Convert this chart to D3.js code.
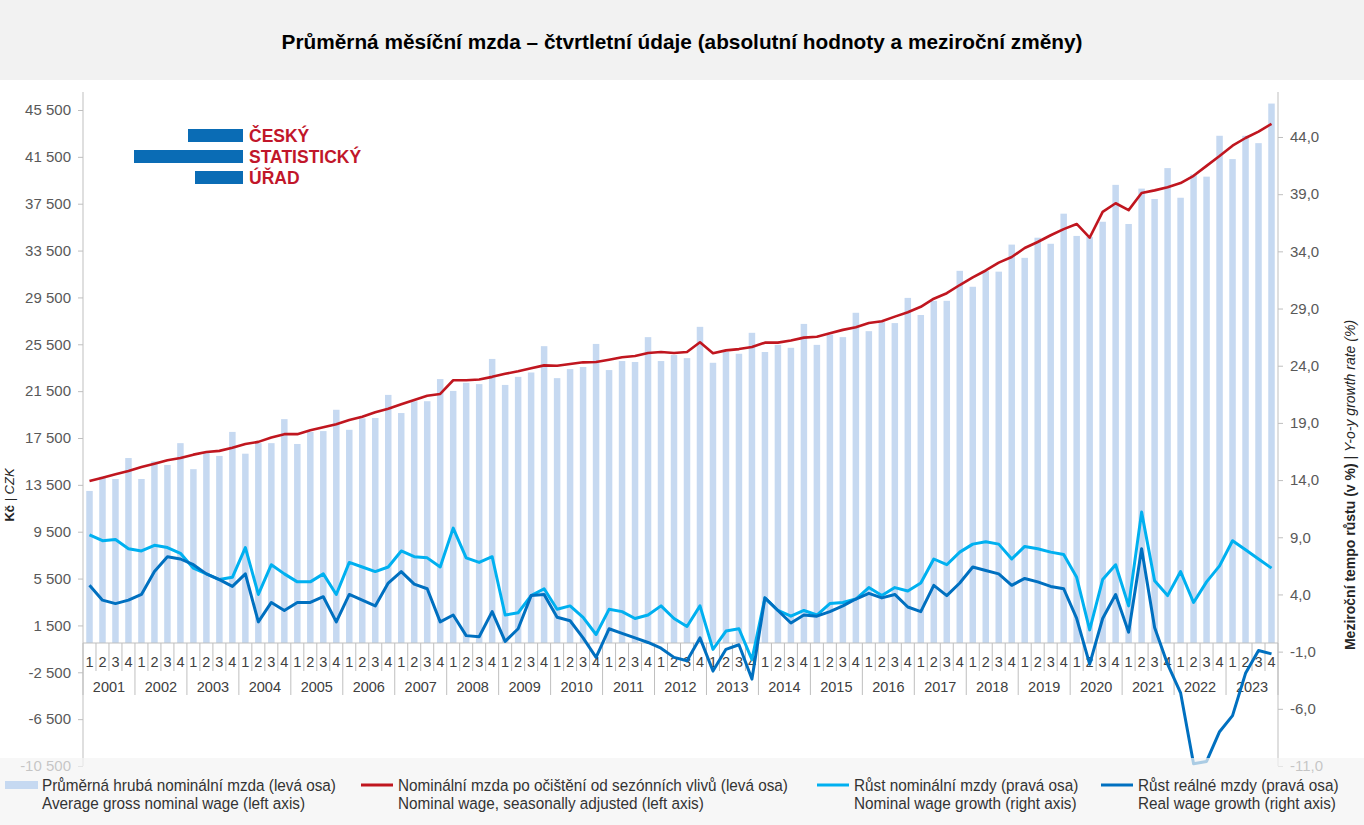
<!DOCTYPE html>
<html><head><meta charset="utf-8">
<script src="https://cdn.jsdelivr.net/npm/d3@7"></script>
<style>
body{margin:0;background:#fff;}
svg{display:block;font-family:"Liberation Sans",Arial,sans-serif;}
</style>
</head><body>
<svg id="c" width="1364" height="825"></svg>
<script>
// ---------- DATA ----------
const years = ["2001","2002","2003","2004","2005","2006","2007","2008","2009","2010","2011","2012",
  "2013","2014","2015","2016","2017","2018","2019","2020","2021","2022","2023"];
const quarters = ["1","2","3","4"];
const categories = years.flatMap(y => quarters.map(q => y + "-" + q));

// Průměrná hrubá nominální mzda (Kč)
const grossWage = [
  12980,14190,14000,15790, 14000,15500,15200,17060, 14840,16230,15970,18020, 16160,17060,17060,19110,
  16990,18020,18090,19910, 18200,19180,19210,21180, 19630,20640,20640,22530, 21520,22210,22100,24250,
  22030,22720,23090,25340, 22610,23380,23560,25530, 23300,24070,23990,26110, 24070,24580,24320,26990,
  23920,24840,24690,26480, 24840,25450,25200,27240, 25450,26330,26110,28190, 26620,27390,27310,29460,
  28000,29210,29210,31770, 30410,31750,31700,34010, 32880,34600,34080,36650, 34750,34670,35960,39110,
  35770,38790,37900,40540, 38010,40000,39810,43300, 41310,43300,42670,46050];
// Nominální mzda po očištění od sezónních vlivů (Kč)
const wageSA = [
  13820,14110,14400,14690, 15030,15310,15600,15790, 16080,16300,16400,16660, 16990,17170,17540,17830,
  17830,18160,18410,18670, 19030,19320,19690,20000, 20380,20750,21110,21260, 22430,22430,22500,22720,
  22980,23190,23450,23700, 23670,23810,23960,23990, 24180,24390,24500,24760, 24840,24760,24840,25670,
  24730,24980,25090,25270, 25640,25640,25820,26070, 26140,26440,26730,26950, 27310,27460,27860,28230,
  28700,29390,29860,30560, 31210,31800,32470,32950, 33720,34230,34810,35330, 35770,34600,36800,37540,
  36950,38420,38640,38900, 39260,39880,40730,41570, 42450,43110,43660,44320];
// Růst nominální mzdy (%)
const nominalGrowth = [
  9.2,8.7,8.8,8.0, 7.8,8.3,8.1,7.6, 6.3,5.8,5.3,5.5, 8.1,4.0,6.6,5.8,
  5.1,5.1,5.8,4.0, 6.8,6.4,6.0,6.4, 7.8,7.3,7.2,6.4, 9.8,7.2,6.8,7.3,
  2.2,2.4,3.9,4.5, 2.7,3.0,2.0,0.5, 2.7,2.5,1.9,2.2, 3.0,1.9,1.2,3.0,
  -0.8,0.8,1.0,-1.7, 3.7,2.6,2.1,2.6, 2.2,3.2,3.3,3.6, 4.6,3.9,4.6,4.3,
  5.0,7.1,6.6,7.7, 8.4,8.6,8.4,7.1, 8.2,8.0,7.7,7.5, 5.5,0.9,5.3,6.6,
  3.0,11.2,5.2,3.9, 6.0,3.3,5.1,6.5, 8.7,7.9,7.1,6.3];
// Růst reálné mzdy (%)
const realGrowth = [
  4.8,3.5,3.2,3.5, 4.0,6.0,7.3,7.1, 6.6,5.8,5.3,4.7, 5.8,1.6,3.3,2.6,
  3.3,3.3,3.8,1.6, 4.0,3.5,3.0,5.0, 6.0,4.9,4.5,1.6, 2.2,0.4,0.3,2.5,
  -0.1,1.0,3.9,4.0, 2.0,1.7,0.2,-1.5, 1.0,0.6,0.2,-0.2, -0.7,-1.5,-1.8,0.2,
  -2.7,-0.8,-0.4,-3.4, 3.7,2.6,1.5,2.2, 2.1,2.5,3.0,3.6, 4.1,3.7,4.0,2.9,
  2.5,4.8,3.9,5.0, 6.4,6.1,5.8,4.8, 5.4,5.1,4.7,4.5, 1.9,-2.1,1.9,4.0,
  0.7,8.0,1.1,-2.1, -4.6,-10.8,-10.6,-8.0, -6.6,-2.9,-0.9,-1.2];

const leftTicks = [-10500,-6500,-2500,1500,5500,9500,13500,17500,21500,25500,29500,33500,37500,41500,45500];
const rightTicks = [-11,-6,-1,4,9,14,19,24,29,34,39,44];
const leftDomain = [-10500, 45500];
const rightDomain = [-11, 46.36];

const title = "Průměrná měsíční mzda – čtvrtletní údaje (absolutní hodnoty a meziroční změny)";
const legendCz = ["Průměrná hrubá nominální mzda (levá osa)", "Nominální mzda po očištění od sezónních vlivů (levá osa)",
  "Růst nominální mzdy (pravá osa)", "Růst reálné mzdy (pravá osa)"];
const legendEn = ["Average gross nominal wage (left axis)", "Nominal wage, seasonally adjusted (left axis)",
  "Nominal wage growth (right axis)", "Real wage growth (right axis)"];
const seriesColors = ["#c6d9f1", "#c0161f", "#00b0f0", "#0070c0"];

// ---------- CHART ----------
const svg = d3.select("#c");
const W = 1364, H = 825;
const L = 83, R = 1278, TOP = 110, BOT = 766;

const loc = d3.formatLocale({decimal:",", thousands:"\u00a0", grouping:[3], currency:["",""], minus:"-"});
const fmtL = loc.format(",");
const fmtR = loc.format(".1f");

svg.append("rect").attr("width",W).attr("height",H).attr("fill","#fff");
svg.append("rect").attr("width",W).attr("height",80).attr("fill","#f2f2f2");
svg.append("text").attr("x",682).attr("y",49).attr("text-anchor","middle")
  .attr("font-size",20.8).attr("font-weight","bold").attr("fill","#000").text(title);

const x = d3.scaleBand().domain(categories).range([L,R]).paddingInner(0.5).paddingOuter(0.25);
const yL = d3.scaleLinear().domain(leftDomain).range([BOT,TOP]);
const yR = d3.scaleLinear().domain(rightDomain).range([BOT,TOP]);
const cx = d => x(d) + x.bandwidth()/2;
const step = x.step();
const y0 = yL(0);

// Logo
const logo = svg.append("g");
const blue = "#0a6cb5";
logo.append("rect").attr("x",188).attr("y",129).attr("width",55).attr("height",13).attr("fill",blue);
logo.append("rect").attr("x",134).attr("y",150).attr("width",109).attr("height",13).attr("fill",blue);
logo.append("rect").attr("x",195).attr("y",171).attr("width",48).attr("height",13).attr("fill",blue);
[["ČESKÝ",142],["STATISTICKÝ",163],["ÚŘAD",184]].forEach(([t,yy])=>{
  logo.append("text").attr("x",249).attr("y",yy).attr("font-size",17.5).attr("font-weight","bold")
    .attr("fill","#c1162a").text(t);
});

// Left axis
const axL = svg.append("g").attr("transform",`translate(${L},0)`)
  .call(d3.axisLeft(yL).tickValues(leftTicks).tickSize(5).tickPadding(7).tickFormat(fmtL));
axL.select(".domain").remove();
axL.selectAll(".tick line").attr("stroke","#bfbfbf");
axL.selectAll(".tick text").attr("fill","#595959").attr("font-size",15).attr("font-family","Liberation Sans, Arial, sans-serif");
svg.append("line").attr("x1",L).attr("x2",L).attr("y1",92).attr("y2",BOT).attr("stroke","#bfbfbf");

// Right axis
const axR = svg.append("g").attr("transform",`translate(${R},0)`)
  .call(d3.axisRight(yR).tickValues(rightTicks).tickSize(5).tickPadding(7).tickFormat(fmtR));
axR.select(".domain").remove();
axR.selectAll(".tick line").attr("stroke","#bfbfbf");
axR.selectAll(".tick text").attr("fill","#595959").attr("font-size",15).attr("font-family","Liberation Sans, Arial, sans-serif");
svg.append("line").attr("x1",R).attr("x2",R).attr("y1",92).attr("y2",BOT).attr("stroke","#bfbfbf");

// Bars
svg.append("g").selectAll("rect").data(categories).join("rect")
  .attr("x",d=>x(d)).attr("width",x.bandwidth())
  .attr("y",(d,i)=>yL(grossWage[i])).attr("height",(d,i)=>y0-yL(grossWage[i]))
  .attr("fill",seriesColors[0]);

// Category axis
const cat = svg.append("g");
cat.append("line").attr("x1",L).attr("x2",R).attr("y1",y0).attr("y2",y0).attr("stroke","#bfbfbf");
d3.range(categories.length+1).forEach(k=>{
  const xx = L + k*step;
  cat.append("line").attr("x1",xx).attr("x2",xx).attr("y1",y0)
    .attr("y2", k%4===0 ? y0+52 : y0+28).attr("stroke","#bfbfbf");
});
cat.selectAll("text.q").data(categories).join("text").attr("class","q")
  .attr("x",d=>cx(d)).attr("y",y0+24).attr("text-anchor","middle")
  .attr("font-size",14.5).attr("fill","#404040").text(d=>d.split("-")[1]);
cat.selectAll("text.yr").data(years).join("text").attr("class","yr")
  .attr("x",(d,i)=>(cx(d+"-2")+cx(d+"-3"))/2).attr("y",y0+49).attr("text-anchor","middle")
  .attr("font-size",14.5).attr("fill","#404040").text(d=>d);

// Lines
const lineL = d3.line().x((d,i)=>cx(categories[i])).y(d=>yL(d));
const lineR = d3.line().x((d,i)=>cx(categories[i])).y(d=>yR(d));
svg.append("path").datum(wageSA).attr("d",lineL).attr("fill","none").attr("stroke",seriesColors[1])
  .attr("stroke-width",2.6).attr("stroke-linejoin","round");
svg.append("path").datum(nominalGrowth).attr("d",lineR).attr("fill","none").attr("stroke",seriesColors[2])
  .attr("stroke-width",3).attr("stroke-linejoin","round");
svg.append("path").datum(realGrowth).attr("d",lineR).attr("fill","none").attr("stroke",seriesColors[3])
  .attr("stroke-width",3).attr("stroke-linejoin","round");

// Axis titles
const tL = svg.append("text").attr("transform","translate(14,495) rotate(-90)").attr("text-anchor","middle")
  .attr("font-size",13).attr("fill","#262626");
tL.append("tspan").attr("font-weight","bold").text("Kč");
tL.append("tspan").text(" | ");
tL.append("tspan").attr("font-style","italic").text("CZK");
const tR = svg.append("text").attr("transform","translate(1355,485) rotate(-90)").attr("text-anchor","middle")
  .attr("font-size",14).attr("fill","#262626");
tR.append("tspan").attr("font-weight","bold").text("Meziroční tempo růstu (v %)");
tR.append("tspan").text(" | ");
tR.append("tspan").attr("font-style","italic").text("Y-o-y growth rate (%)");

// Legend
svg.append("rect").attr("x",0).attr("y",758).attr("width",W).attr("height",H-758)
  .attr("fill","#f4f4f4").attr("fill-opacity",0.7);
const legendX = [5, 361, 817, 1101];
const lg = svg.append("g").attr("font-size",17).attr("fill","#333");
legendCz.forEach((t,i)=>{
  const lx = legendX[i];
  if(i===0) lg.append("rect").attr("x",lx).attr("y",781).attr("width",33).attr("height",8).attr("fill",seriesColors[i]);
  else lg.append("line").attr("x1",lx).attr("x2",lx+32).attr("y1",785).attr("y2",785)
    .attr("stroke",seriesColors[i]).attr("stroke-width",3);
  lg.append("text").attr("transform",`translate(${lx+37},791) scale(0.9,1)`).text(t);
  lg.append("text").attr("transform",`translate(${lx+37},809) scale(0.9,1)`).text(legendEn[i]);
});
</script>
</body></html>
